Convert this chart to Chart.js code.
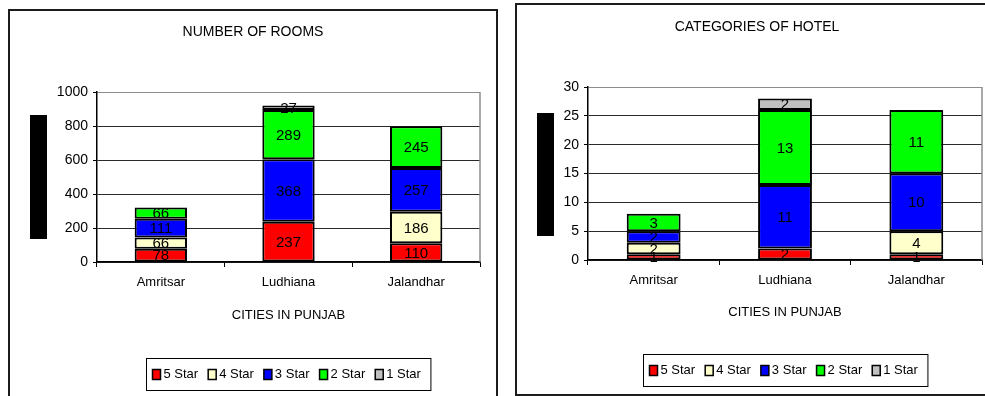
<!DOCTYPE html>
<html>
<head>
<meta charset="utf-8">
<title>Hotels in Punjab</title>
<script src="https://cdn.jsdelivr.net/npm/chart.js@4.4.1/dist/chart.umd.min.js"></script>
<style>
  html, body { margin: 0; padding: 0; background: #fff; width: 985px; height: 396px; overflow: hidden; }
  .panel { position: absolute; border: 2px solid #1c1c1c; box-sizing: border-box; }
  #roomsPanel { left: 8px; top: 9px; width: 490px; height: 400px; }
  #hotelsPanel { left: 515px; top: 3px; width: 480px; height: 393px; }
  canvas { position: absolute; top: 0; }
  #roomsChart { left: 0; }
  #hotelsChart { left: 500px; }
</style>
</head>
<body>
<div class="panel" id="roomsPanel"></div>
<div class="panel" id="hotelsPanel"></div>
<canvas id="roomsChart" width="500" height="396"></canvas>
<canvas id="hotelsChart" width="485" height="396"></canvas>
<script>
// Cities on the category axis
const cities = ['Amritsar', 'Ludhiana', 'Jalandhar'];
// Hotel classes, bottom of each stack first
const starLabels = ['5 Star', '4 Star', '3 Star', '2 Star', '1 Star'];

// Number of rooms per class and city
const rooms5Star = [78, 237, 110];
const rooms4Star = [66, 0, 186];
const rooms3Star = [111, 368, 257];
const rooms2Star = [66, 289, 245];
const rooms1Star = [0, 27, 0];

// Number of hotels per class and city
const hotels5Star = [1, 2, 1];
const hotels4Star = [2, 0, 4];
const hotels3Star = [2, 11, 10];
const hotels2Star = [3, 13, 11];
const hotels1Star = [0, 2, 0];

// Value axes
const roomTicks = [0, 200, 400, 600, 800, 1000];
const hotelTicks = [0, 5, 10, 15, 20, 25, 30];

const starColors = ['#ff0000', '#ffffcc', '#0000ff', '#00ff00', '#c0c0c0'];
const FONT = '"Liberation Sans", Arial, Helvetica, sans-serif';

Chart.defaults.font.family = FONT;
Chart.defaults.color = '#000';

// Title, black side block, plot frame, value labels and boxed legend
const sheetDecor = {
  id: 'sheetDecor',
  beforeDatasetsDraw(chart) {
    const { ctx, chartArea: a } = chart;
    ctx.save();
    ctx.strokeStyle = '#8c8c8c';
    ctx.lineWidth = 1.5;
    ctx.beginPath();
    ctx.moveTo(a.right, a.top);
    ctx.lineTo(a.right, a.bottom);
    ctx.stroke();
    ctx.restore();
  },
  afterDatasetsDraw(chart) {
    const { ctx } = chart;
    ctx.save();
    ctx.font = '15px ' + FONT;
    ctx.fillStyle = '#000';
    ctx.textAlign = 'center';
    ctx.textBaseline = 'middle';
    chart.data.datasets.forEach((ds, di) => {
      const meta = chart.getDatasetMeta(di);
      meta.data.forEach((bar, i) => {
        const v = ds.data[i];
        if (!v) return;
        ctx.fillText(String(v), bar.x, (bar.y + bar.base) / 2 + 1);
      });
    });
    ctx.restore();
  },
  afterDraw(chart, args, o) {
    const { ctx, chartArea: a } = chart;
    ctx.save();
    // heading
    ctx.font = '14px ' + FONT;
    ctx.fillStyle = '#000';
    ctx.textAlign = 'center';
    ctx.textBaseline = 'middle';
    ctx.fillText(o.title, o.titleX, o.titleY);

    // solid block beside the value axis
    ctx.fillRect(o.blockX, o.blockY, o.blockW, o.blockH);

    // legend in a framed box centred under the plot
    ctx.font = '13px ' + FONT;
    const sqW = 8, sqH = 10, gap = 3, spacing = 10, padL = 6, padR = 10, boxH = 32;
    const items = chart.data.datasets.map(d => ({ text: d.label, color: d.backgroundColor }));
    const widths = items.map(it => sqW + gap + ctx.measureText(it.text).width);
    const total = widths.reduce((s, w) => s + w, 0) + spacing * (items.length - 1);
    const boxW = total + padL + padR;
    const cx = (a.left + a.right) / 2;
    const boxL = Math.round(cx - boxW / 2) + 0.5;
    const boxT = Math.round(a.bottom + o.legendGap) + 0.5;
    ctx.strokeStyle = '#000';
    ctx.lineWidth = 1;
    ctx.strokeRect(boxL, boxT, boxW, boxH);
    const midY = boxT + boxH / 2;
    let x = boxL + padL;
    ctx.textAlign = 'left';
    items.forEach((it, i) => {
      ctx.fillStyle = it.color;
      ctx.fillRect(x, midY - sqH / 2, sqW, sqH);
      ctx.strokeStyle = '#000';
      ctx.lineWidth = 1.5;
      ctx.strokeRect(x, midY - sqH / 2, sqW, sqH);
      ctx.fillStyle = '#000';
      ctx.fillText(it.text, x + sqW + gap, midY);
      x += widths[i] + spacing;
    });
    ctx.restore();
  }
};

function buildDatasets(series) {
  return series.map((values, i) => ({
    label: starLabels[i],
    data: values,
    backgroundColor: starColors[i],
    borderColor: '#000',
    borderWidth: 2,
    borderSkipped: false,
    categoryPercentage: 1,
    barPercentage: 0.41
  }));
}

function makeChart(canvasId, series, ticks, geo, decor) {
  const yMax = ticks[ticks.length - 1];
  return new Chart(document.getElementById(canvasId), {
    type: 'bar',
    data: { labels: cities, datasets: buildDatasets(series) },
    plugins: [sheetDecor],
    options: {
      responsive: false,
      animation: false,
      layout: { padding: geo.padding },
      plugins: {
        legend: { display: false },
        title: { display: false },
        tooltip: { enabled: false },
        sheetDecor: decor
      },
      scales: {
        x: {
          stacked: true,
          afterFit(scale) { scale.height = geo.xHeight; },
          grid: { display: true, drawOnChartArea: false, offset: true, tickLength: 5, color: '#000', lineWidth: 1 },
          border: { display: true, color: '#000', width: 1.5 },
          ticks: { font: { size: 13 }, color: '#000', padding: 8 },
          title: { display: true, text: 'CITIES IN PUNJAB', font: { size: 13 }, color: '#000', padding: 0 }
        },
        y: {
          stacked: true,
          min: 0,
          max: yMax,
          afterFit(scale) { scale.width = geo.yWidth; },
          afterBuildTicks(scale) { scale.ticks = ticks.map(v => ({ value: v })); },
          grid: {
            color: c => (c.tick && c.tick.value === yMax ? '#8c8c8c' : '#2a2a2a'),
            tickColor: '#000',
            tickLength: 4,
            lineWidth: 1
          },
          border: { display: true, color: '#000', width: 1.5 },
          ticks: { font: { size: 14 }, color: '#000', padding: 5, callback: v => String(v) }
        }
      }
    }
  });
}

makeChart('roomsChart',
  [rooms5Star, rooms4Star, rooms3Star, rooms2Star, rooms1Star],
  roomTicks,
  { padding: { top: 92, left: 0, right: 20, bottom: 73 }, yWidth: 97, xHeight: 61 },
  { title: 'NUMBER OF ROOMS', titleX: 253, titleY: 32,
    blockX: 30, blockY: 115, blockW: 17, blockH: 124, legendGap: 96 });

makeChart('hotelsChart',
  [hotels5Star, hotels4Star, hotels3Star, hotels2Star, hotels1Star],
  hotelTicks,
  { padding: { top: 87, left: 0, right: 3, bottom: 76 }, yWidth: 88, xHeight: 60 },
  { title: 'CATEGORIES OF HOTEL', titleX: 257, titleY: 27,
    blockX: 37, blockY: 113, blockW: 17, blockH: 123, legendGap: 94 });
</script>
</body>
</html>
